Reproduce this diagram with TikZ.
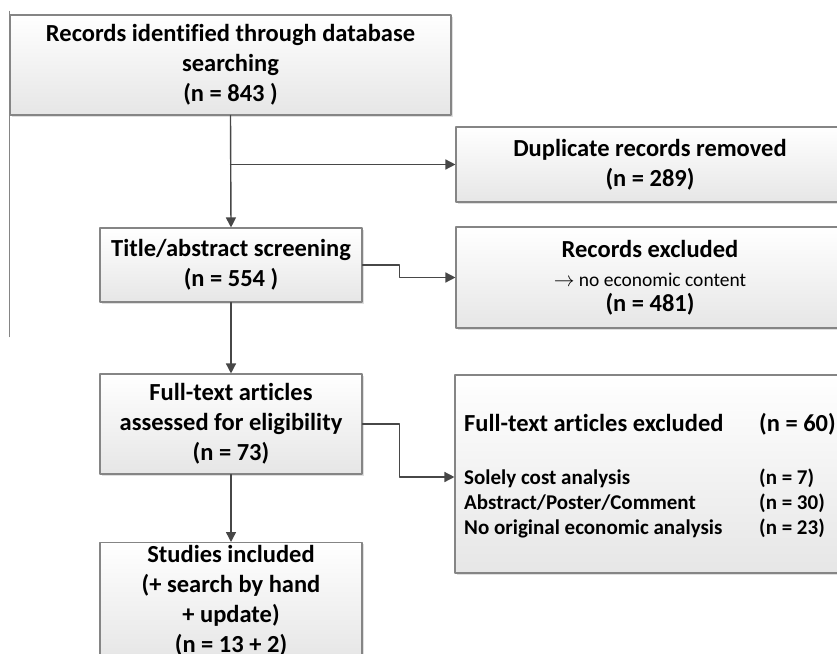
\documentclass[tikz,border=0pt]{standalone}
\usepackage{fontspec}
\setmainfont{Carlito}[Ligatures=NoCommon]
\usetikzlibrary{shapes,arrows.meta,positioning,shadows}
\definecolor{boxline}{HTML}{858585}
\definecolor{boxbottom}{HTML}{E6E6E6}
\definecolor{linkcol}{HTML}{474747}
\tikzset{
  box/.style={draw=boxline,line width=1.1pt,top color=white,bottom color=boxbottom,
    drop shadow={shadow xshift=1.5pt,shadow yshift=-1.5pt,opacity=0.25,fill=gray},
    align=center,inner sep=0pt,font=\bfseries\fontsize{24.5}{30}\selectfont},
  link/.style={-{Triangle[length=10pt,width=10pt]},draw=linkcol,line width=1.4pt},
  item/.style={anchor=base west,inner sep=0pt,font=\bfseries\fontsize{21}{25}\selectfont},
}

\begin{document}
\begin{tikzpicture}[line cap=round,line join=round,x=1pt,y=-1pt]
		\useasboundingbox (0,0) rectangle (837,653);
		\clip (0,0) rectangle (837,653);
		% left column
		\node[box,minimum width=441pt,minimum height=100pt] (search) at (230.5,65)
		{Records identified through database\\searching\\(n = 843 )};
		\node[box,minimum width=262pt,minimum height=74pt] (title) at (231,265)
		{Title/abstract screening\\(n = 554 )};
		\node[box,minimum width=262pt,minimum height=100pt] (full) at (231,424)
		{Full-text articles\\assessed for eligibility\\(n = 73)};
		\node[box,anchor=north,minimum width=262pt,inner ysep=3pt] (incl) at (231,542)
		{Studies included\\(+ search by hand\\+ update)\\(n = 13 + 2)};
		% right column
		\node[box,minimum width=388pt,minimum height=75pt] (dup) at (650,164.5)
		{Duplicate records removed\\(n = 289)};
		\node[box,minimum width=388pt,minimum height=101pt] (excl) at (650,277.5)
		{Records excluded\\[-1pt]{\mdseries\fontsize{19.5}{25}\selectfont $\rightarrow$ no economic content}\\[-5pt](n = 481)};
		\node[box,minimum width=390pt,minimum height=198pt] (fexcl) at (650,474) {};
		\node[item,font=\bfseries\fontsize{24.5}{30}\selectfont] (fexclhead) at (464,431) {Full-text articles excluded};
		\node[item,font=\bfseries\fontsize{24.5}{30}\selectfont] (fexcln) at (759,431) {(n = 60)};
		\node[item] (solely) at (464,484) {Solely cost analysis};
		\node[item] (abstract) at (464,509) {Abstract/Poster/Comment};
		\node[item] (noorig) at (464,534) {No original economic analysis};
		\node[item] (solelyn) at (759,484) {(n = 7)};
		\node[item] (abstractn) at (759,509) {(n = 30)};
		\node[item] (noorign) at (759,534) {(n = 23)};
		% connectors
		\draw[boxline,line width=1.3pt] ([yshift=3pt]search.north west) -- ++(0,325); %bordo sinistro
		\draw[link] (search.south) -- (title.north);
		\draw[link] (search.south |- dup.west) -- (dup.west);
		\draw[link] (title.east) -- ++(37,0) |- (excl.west);
		\draw[link] (title.south) -- (full.north);
		\draw[link] (full.east) -- ++(37,0) |- ([yshift=-3pt]fexcl.west);
		\draw[link] (full.south) -- (incl.north);
\end{tikzpicture}
\end{document}
